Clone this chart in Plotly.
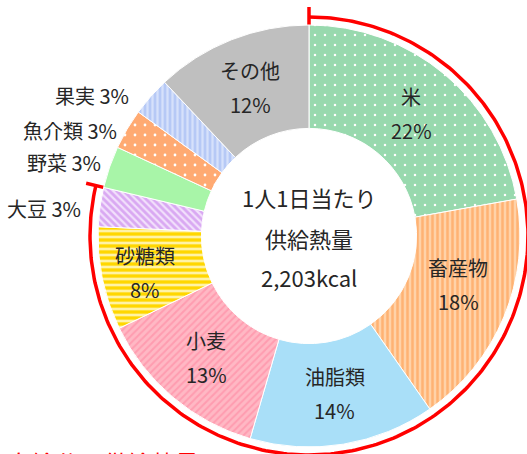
import numpy as np
import plotly.graph_objects as go

# ---- data ----
items = ["米", "畜産物", "油脂類", "小麦", "砂糖類", "大豆", "野菜", "魚介類", "果実", "その他"]
values = [22.2, 18.1, 14.2, 13.3, 7.9, 3.0, 3.2, 3.1, 3.0, 12.0]
pct_labels = ["22%", "18%", "14%", "13%", "8%", "3%", "3%", "3%", "3%", "12%"]
inside_label = [True, True, True, True, True, False, False, False, False, True]
arc_count = 6  # items covered by the red arc (米 ... 大豆)
center_lines = ["1人1日当たり", "供給熱量", "2,203kcal"]
bottom_text = "自給分の供給熱量"

# ---- style ----
W, H = 527, 454
CX, CY, R = 309, 236, 211
HOLE = 0.51
FONT = "Noto Sans CJK JP"
TXT = "#262626"

bg = ["#98D9AE", "#FFD2A8", "#A9DFF8", "#FFB8C4", "#FFD700",
      "#D9A8F2", "#A8F5A8", "#FFAA72", "#B6C9F6", "#BFBFBF"]
fg = ["#FFFFFF", "#FFB273", "#A9DFF8", "#FF9CB0", "#FFF3A6",
      "#F2E0FC", "#A8F5A8", "#FFFFFF", "#D6E1FB", "#BFBFBF"]
shapes_pat = [".", "|", "", "/", "-", "\\", "", ".", "|", ""]
sizes = [10, 5, 8, 5, 6, 5, 8, 10, 5, 8]
solid = [0.05, 0.5, 0.3, 0.4, 0.45, 0.45, 0.3, 0.06, 0.45, 0.3]
label_nudge = {"畜産物": (2, -12), "砂糖類": (-8, 4)}

fig = go.Figure()

fig.add_trace(go.Pie(
    labels=items, values=values, sort=False, direction="clockwise", rotation=0,
    hole=HOLE, textinfo="none", hoverinfo="skip", showlegend=False,
    domain=dict(x=[(CX - R) / W, (CX + R) / W], y=[1 - (CY + R) / H, 1 - (CY - R) / H]),
    marker=dict(colors=bg, line=dict(color="white", width=1),
                pattern=dict(shape=shapes_pat, fgcolor=fg, bgcolor=bg,
                             size=sizes, solidity=solid, fillmode="replace")),
))

# red arc from data
tot = sum(values)
frac_end = sum(values[:arc_count]) / tot
ra = 219
th = np.linspace(0, frac_end * 2 * np.pi, 300)
fig.add_trace(go.Scatter(x=CX + ra * np.sin(th), y=CY - ra * np.cos(th), mode="lines",
                         line=dict(color="#FF0000", width=3.5),
                         hoverinfo="skip", showlegend=False))
for a in [0.0, frac_end * 2 * np.pi]:
    rr = np.array([208, 229])
    fig.add_trace(go.Scatter(x=CX + rr * np.sin(a), y=CY - rr * np.cos(a), mode="lines",
                             line=dict(color="#FF0000", width=3.5), hoverinfo="skip",
                             showlegend=False))

ann = []
cum = 0
rmid = (R + R * HOLE) / 2
for name, v, p, ins in zip(items, values, pct_labels, inside_label):
    mid = (cum + v / 2) / tot * 2 * np.pi
    cum += v
    if not ins:
        continue
    dx, dy = label_nudge.get(name, (0, 0))
    x = CX + rmid * np.sin(mid) + dx
    y = CY - rmid * np.cos(mid) + dy
    ann.append(dict(x=x, y=y - 17, text=name, xref="x", yref="y", showarrow=False,
                    font=dict(size=20, color=TXT, family=FONT)))
    ann.append(dict(x=x, y=y + 17, text=p, xref="x", yref="y", showarrow=False,
                    font=dict(size=20, color=TXT, family=FONT)))

out_pos = {"大豆": (83, 208), "野菜": (103, 162), "魚介類": (119, 130), "果実": (131, 95)}
for name, p, ins in zip(items, pct_labels, inside_label):
    if ins:
        continue
    x, y = out_pos[name]
    ann.append(dict(x=x, y=y, text=f"{name} {p}", xref="x", yref="y", xanchor="right",
                    showarrow=False, font=dict(size=20, color=TXT, family=FONT)))

for t, y in zip(center_lines, [197, 238, 277]):
    ann.append(dict(x=CX, y=y, text=t, xref="x", yref="y", showarrow=False,
                    font=dict(size=22, color=TXT, family=FONT)))

ann.append(dict(x=5, y=443, text=bottom_text, xref="x", yref="y", xanchor="left",
                yanchor="top", showarrow=False,
                font=dict(size=24, color="#FF0000", family=FONT)))

fig.update_layout(
    width=W, height=H, margin=dict(l=0, r=0, t=0, b=0),
    paper_bgcolor="white", plot_bgcolor="rgba(0,0,0,0)",
    xaxis=dict(range=[0, W], visible=False, domain=[0, 1], fixedrange=True),
    yaxis=dict(range=[H, 0], visible=False, domain=[0, 1], fixedrange=True),
    annotations=ann,
)

fig.write_html("out.html")
